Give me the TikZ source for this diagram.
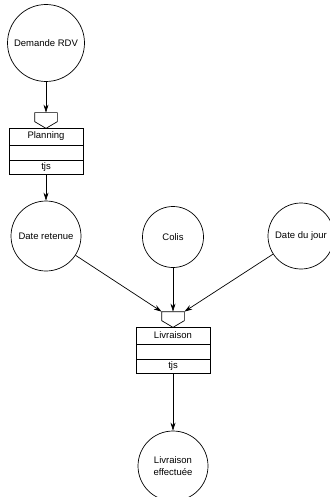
\documentclass[tikz,border=0pt]{standalone}
\usepackage{fontspec}
\setmainfont{Liberation Sans}
\usetikzlibrary{arrows.meta}

\begin{document}
\begin{tikzpicture}
[x=1pt, y=-1pt, font=\fontsize{9.5}{12}\selectfont, line width=0.7pt,
state/.style={circle, draw, inner sep=0pt, align=center},
head/.style={rectangle, draw, inner sep=0pt, minimum width=74pt, minimum height=17pt},
body/.style={rectangle, draw, inner sep=0pt, minimum width=74pt, minimum height=15pt},
rule/.style={rectangle, draw, inner sep=0pt, minimum width=74pt, minimum height=14pt},
gate/.style={rectangle, inner sep=0pt, minimum width=22pt, minimum height=15pt},
flow/.style={-{Stealth[length=8pt, width=5pt]}}]

\useasboundingbox (0,0) rectangle (329,497);

\node[state, minimum size=77pt] (rdv) at (46,43) {Demande RDV};

\node[gate] (gplan) at (46,120.5) {};
\draw (gplan.north west) -- (gplan.north east) -- ([yshift=-9pt]gplan.north east)
  -- (gplan.south) -- ([yshift=-9pt]gplan.north west) -- cycle;
\node[head] (plan) at (46,136.5) {Planning};
\node[body] (planmid) at (46,152.5) {};
\node[rule] (planrule) at (46,167) {tjs};

\node[state, minimum size=70pt] (dateret) at (46,236) {Date retenue};
\node[state, minimum size=61pt] (colis) at (173,237) {Colis};
\node[state, minimum size=66pt] (datejour) at (301,236) {Date du jour};

\node[gate] (gliv) at (173,319.5) {};
\draw (gliv.north west) -- (gliv.north east) -- ([yshift=-9pt]gliv.north east)
  -- (gliv.south) -- ([yshift=-9pt]gliv.north west) -- cycle;
\node[head] (liv) at (173,335.5) {Livraison};
\node[body] (livmid) at (173,351.5) {};
\node[rule] (livrule) at (173,366) {tjs};

\node[state, minimum size=70pt] (livok) at (173,466) {Livraison\\effectuée};

\draw[flow] (rdv) -- (gplan);
\draw[flow] (planrule) -- (dateret);
\draw[flow] (dateret) -- (gliv.north west);
\draw[flow] (colis) -- (gliv.north);
\draw[flow] (datejour) -- (gliv.north east);
\draw[flow] (livrule) -- (livok);
\end{tikzpicture}
\end{document}
